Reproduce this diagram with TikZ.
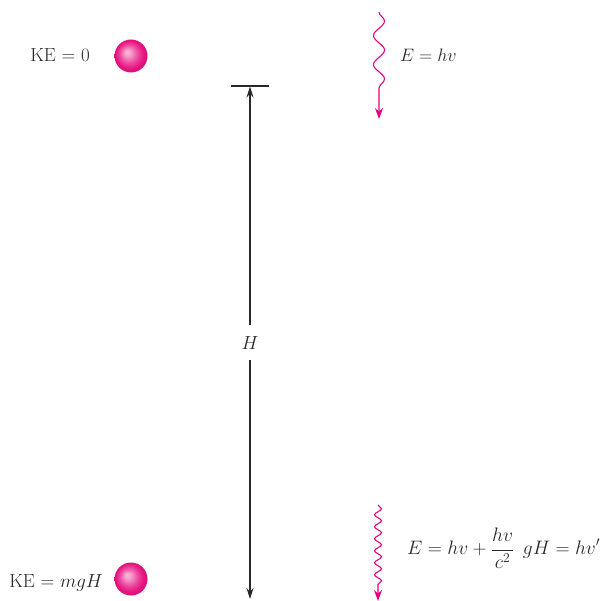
\RequirePackage{fix-cm}
\documentclass[tikz,border=0pt]{standalone}
\usetikzlibrary{arrows.meta,decorations.pathmorphing,shadings}
\definecolor{mag}{RGB}{230,0,126}
\definecolor{ballc}{RGB}{232,20,130}
\definecolor{ink}{RGB}{40,40,40}
\pgfdeclareradialshading{pinkball}{\pgfpoint{-6bp}{6bp}}{%
  color(0bp)=(ballc!30!white); color(4bp)=(ballc!38!white);
  color(13bp)=(ballc!75!white); color(21bp)=(ballc);
  color(27bp)=(ballc!88!black); color(32bp)=(ballc!88!black)}
\begin{document}
\begin{tikzpicture}[x=1pt,y=-1pt,
  lbl/.style={font=\fontsize{19}{22}\selectfont, text=ink, inner sep=0pt},
  ball/.style={circle, minimum size=33pt, inner sep=0pt, shading=pinkball},
  dimline/.style={draw=ink, line width=1.1pt, -{Stealth[length=11pt,width=7pt]}},
  photon/.style={draw=mag, line width=1.1pt, -{Stealth[length=11pt,width=8pt]}}
]
\useasboundingbox (0,0) rectangle (607,601);
% balls
\node[ball] (b1) at (131,56) {};
\node[ball] (b2) at (131,579) {};
\node[lbl, anchor=base east] (k1) at (90,62) {KE = 0};
\node[lbl, anchor=base east] (k2) at (103,587) {KE = $mgH$};
% height marker
\coordinate (barL) at (231,86);
\coordinate (barR) at (269,86);
\draw[ink, line width=1.1pt] (barL) -- (barR);
\coordinate (topT) at (250,86.5);
\coordinate (botT) at (250,599);
\node[lbl] (H) at (250,343) {$H$};
\draw[dimline] (H.north) ++(0,-11) -- (topT);
\draw[dimline] (H.south) ++(0,10) -- (botT);
% photons
\coordinate (p1s) at (379,12);
\coordinate (p1e) at (379,119);
\draw[photon, decorate, decoration={snake, segment length=29pt, amplitude=5.5pt, post length=22pt}] (p1s) -- (p1e);
\node[lbl, anchor=base west, font=\fontsize{18}{21}\selectfont] (e1) at (400,62) {$E = hv$};
\coordinate (p2s) at (378,505);
\coordinate (p2e) at (378,601);
\draw[photon, decorate, decoration={snake, segment length=12pt, amplitude=3.5pt, post length=15pt}] (p2s) -- (p2e);
\node[lbl, anchor=west, font=\fontsize{19.5}{23}\selectfont] (e2) at (407,548) {$\displaystyle E = hv + \frac{hv}{c^2}\;\, gH = hv'$};
\end{tikzpicture}
\end{document}
